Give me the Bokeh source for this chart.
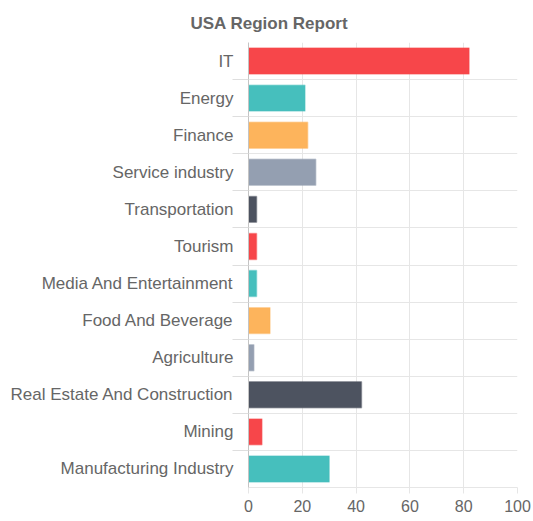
from bokeh.plotting import figure
from bokeh.models import Range1d, FixedTicker, LinearAxis, ColumnDataSource
from bokeh.embed import file_html
from bokeh.resources import INLINE

categories = ["IT", "Energy", "Finance", "Service industry", "Transportation", "Tourism",
              "Media And Entertainment", "Food And Beverage", "Agriculture",
              "Real Estate And Construction", "Mining", "Manufacturing Industry"]
values = [82, 21, 22, 25, 3, 3, 3, 8, 2, 42, 5, 30]
palette = ["#F7464A", "#46BFBD", "#FDB45C", "#949FB1", "#4D5360"]
x_ticks = [0, 20, 40, 60, 80, 100]
title_text = "USA Region Report"

FONT = "Liberation Sans"
TXT = "#666666"
GRID = "#e6e6e6"

n = len(categories)
ypos = [n - 0.5 - i for i in range(n)]          # first category on top
colors = [palette[i % len(palette)] for i in range(n)]
src = ColumnDataSource(dict(y=ypos, cat=categories, val=values, color=colors))

p = figure(width=533, height=521, output_backend="svg", toolbar_location=None,
           y_range=Range1d(0, n), x_range=Range1d(0, 100),
           y_axis_location=None, x_axis_location=None,
           min_border_left=248, min_border_right=16, min_border_top=42, min_border_bottom=34,
           outline_line_color=None)

p.hbar(y="y", right="val", left=0, height=0.7, source=src,
       fill_color="color", line_color="color", line_alpha=0.45, line_width=1.5)

# grid
p.xgrid.ticker = FixedTicker(ticks=x_ticks)
p.xgrid.grid_line_color = GRID
p.ygrid.ticker = FixedTicker(ticks=list(range(1, n)))
p.ygrid.grid_line_color = GRID

# category labels at centres, boundary tick marks as minor ticks
y_axis = LinearAxis(ticker=FixedTicker(ticks=ypos, minor_ticks=list(range(1, n))),
                    major_label_overrides={y: c for y, c in zip(ypos, categories)},
                    major_tick_line_color=None, major_tick_out=0, major_tick_in=0,
                    minor_tick_line_color="#dedede", minor_tick_out=16, minor_tick_in=0,
                    axis_line_color="#c4c4c4",
                    major_label_text_font=FONT, major_label_text_font_size="17px",
                    major_label_text_color=TXT, major_label_standoff=-1)
p.add_layout(y_axis, "left")

x_axis = LinearAxis(ticker=FixedTicker(ticks=x_ticks), axis_line_color=GRID,
                    major_tick_line_color=GRID, major_tick_out=6, major_tick_in=0,
                    minor_tick_line_color=None, major_label_standoff=6,
                    major_label_text_font=FONT, major_label_text_font_size="16px",
                    major_label_text_color=TXT)
p.add_layout(x_axis, "below")

p.title.text = title_text
p.title.align = "left"
p.title.text_font = FONT
p.title.text_font_size = "17px"
p.title.text_font_style = "bold"
p.title.text_color = TXT
p.title.offset = -58
p.title.standoff = 20

open("out.html", "w").write(file_html(p, INLINE))
